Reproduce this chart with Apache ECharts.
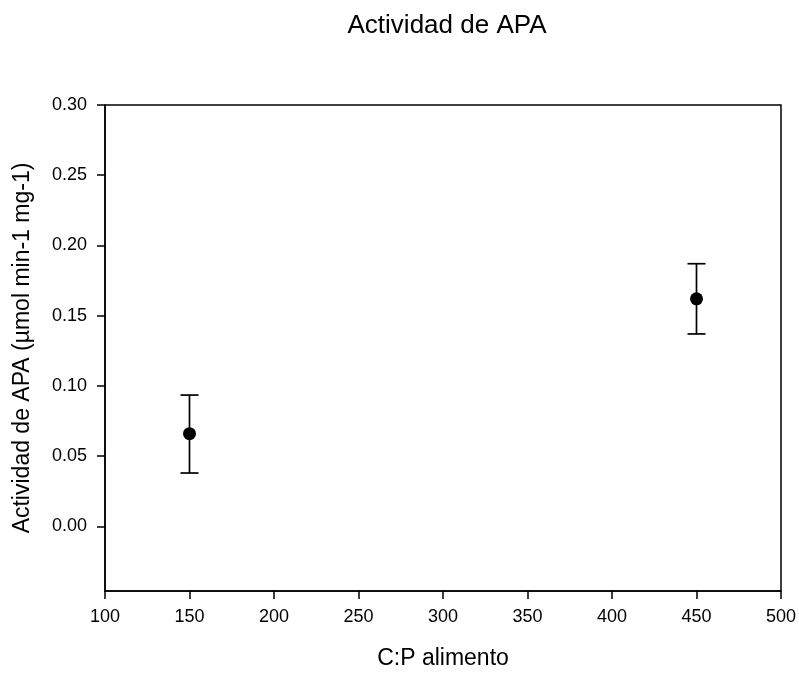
<!DOCTYPE html>
<html><head><meta charset="utf-8">
<script src="https://cdn.jsdelivr.net/npm/echarts@6/dist/echarts.min.js"></script>
<style>html,body{margin:0;padding:0;background:#fff}#c{width:799px;height:673px}</style>
</head><body><div id="c"></div>
<script>
const xValues = [150, 450];
const yMeans = [0.066, 0.162];
const yLower = [0.038, 0.137];
const yUpper = [0.0935, 0.187];
const yTicks = [0, 0.05, 0.10, 0.15, 0.20, 0.25, 0.30];
const xTicks = [100, 150, 200, 250, 300, 350, 400, 450, 500];

const chart = echarts.init(document.getElementById('c'));
const font = 'Liberation Sans, Arial, sans-serif';
chart.setOption({
  animation: false,
  title: { text: 'Actividad de APA', left: 442, top: 8, textAlign: 'center',
    textStyle: { fontFamily: font, fontSize: 26, fontWeight: 'normal', color: '#000' } },
  grid: { left: 105, top: 105, right: 18, bottom: 82, outerBoundsMode: 'none', containLabel: false,
    show: true, borderColor: '#000', borderWidth: 1.5, backgroundColor: 'transparent' },
  xAxis: {
    type: 'value', min: 100, max: 500, interval: 50,
    name: 'C:P alimento', nameLocation: 'middle', nameGap: 56,
    nameTextStyle: { fontFamily: font, fontSize: 23, color: '#000' },
    axisLine: { show: true, onZero: false, lineStyle: { color: '#000', width: 1.5 } },
    axisTick: { show: true, length: 8, lineStyle: { color: '#000', width: 1.5 } },
    axisLabel: { fontFamily: font, fontSize: 18, color: '#000', margin: 17 },
    splitLine: { show: false }
  },
  yAxis: {
    type: 'value', min: -0.046, max: 0.30,
    name: 'Actividad de APA (µmol min-1 mg-1)', nameLocation: 'middle', nameGap: 71, nameRotate: 90,
    nameTextStyle: { fontFamily: font, fontSize: 23, color: '#000' },
    axisLine: { show: true, onZero: false, lineStyle: { color: '#000', width: 1.5 } },
    axisTick: { show: true, length: 8, customValues: yTicks, lineStyle: { color: '#000', width: 1.5 } },
    axisLabel: { fontFamily: font, fontSize: 18, color: '#000', margin: 18, customValues: yTicks,
      formatter: v => v.toFixed(2) },
    splitLine: { show: false }
  },
  series: [
    {
      type: 'custom',
      data: xValues.map((x, i) => [x, yLower[i], yUpper[i]]),
      renderItem: function (params, api) {
        const lo = api.coord([api.value(0), api.value(1)]);
        const hi = api.coord([api.value(0), api.value(2)]);
        const hw = 9;
        const st = { stroke: '#000', lineWidth: 1.7 };
        return { type: 'group', children: [
          { type: 'line', shape: { x1: lo[0], y1: lo[1], x2: hi[0], y2: hi[1] }, style: st },
          { type: 'line', shape: { x1: lo[0] - hw, y1: lo[1], x2: lo[0] + hw, y2: lo[1] }, style: st },
          { type: 'line', shape: { x1: hi[0] - hw, y1: hi[1], x2: hi[0] + hw, y2: hi[1] }, style: st }
        ]};
      },
      z: 2
    },
    {
      type: 'scatter',
      data: xValues.map((x, i) => [x, yMeans[i]]),
      symbol: 'circle', symbolSize: 13,
      itemStyle: { color: '#000', opacity: 1 },
      z: 3
    }
  ]
});
</script></body></html>
